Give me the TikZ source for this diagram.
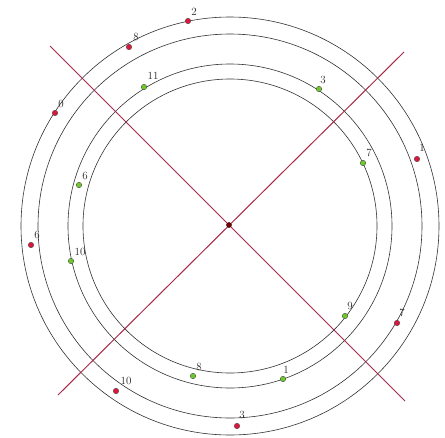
\documentclass[tikz,border=0pt]{standalone}
\definecolor{axiscol}{RGB}{168,42,72}
\definecolor{dotred}{RGB}{225,20,60}
\definecolor{dotgreen}{RGB}{110,200,40}
\begin{document}
\begin{tikzpicture}[x=1pt,y=-1pt,
  ring/.style={draw=black!80, line width=0.6pt},
  axisline/.style={draw=axiscol, line width=1pt},
  reddot/.style={circle, draw=black!70, fill=dotred, line width=0.4pt, inner sep=0pt, minimum size=5.5pt},
  greendot/.style={circle, draw=black!70, fill=dotgreen, line width=0.4pt, inner sep=0pt, minimum size=5.5pt},
  centerdot/.style={circle, draw=black, fill=red!50!black, inner sep=0pt, minimum size=5pt},
  lbl/.style={inner sep=0pt, font=\fontsize{11}{13}\selectfont, text=black!85}]
\useasboundingbox (0,0) rectangle (445,437);
\fill[white] (0,0) rectangle (445,437);
\coordinate (c) at (230,226);
% rings
\draw[ring] (c) circle[radius=209];
\draw[ring] (c) circle[radius=192];
\draw[ring] (c) circle[radius=162];
\draw[ring] (c) circle[radius=147];
% axes
\coordinate (a1) at (50,46);
\coordinate (a2) at (405,401);
\coordinate (b1) at (404,52);
\coordinate (b2) at (58,395);
\draw[axisline] (a1) -- (a2);
\draw[axisline] (b1) -- (b2);
\node[centerdot] (ctr) at (229,225) {};
% red dots
\node[reddot] (r2) at (188,21) {};   \node[lbl] (lr2) at (194,12) {2};
\node[reddot] (r8) at (129,47) {};   \node[lbl] (lr8) at (136,37) {8};
\node[reddot] (r0) at (55,113) {};   \node[lbl] (lr0) at (61,104) {0};
\node[reddot] (r1) at (417,159) {};  \node[lbl] (lr1) at (422,148) {1};
\node[reddot] (r7) at (397,323) {};  \node[lbl] (lr7) at (402,313) {7};
\node[reddot] (r3) at (237,426) {};  \node[lbl] (lr3) at (242,415) {3};
\node[reddot] (r10) at (116,391) {}; \node[lbl] (lr10) at (126,381) {10};
\node[reddot] (r6) at (31,245) {};   \node[lbl] (lr6) at (37,235) {6};
% green dots
\node[greendot] (g11) at (144,87) {};  \node[lbl] (lg11) at (153,76) {11};
\node[greendot] (g3) at (319,89) {};   \node[lbl] (lg3) at (323,80) {3};
\node[greendot] (g7) at (363,163) {};  \node[lbl] (lg7) at (369,153) {7};
\node[greendot] (g6) at (79,185) {};   \node[lbl] (lg6) at (85,176) {6};
\node[greendot] (g10) at (71,261) {};  \node[lbl] (lg10) at (80,252) {10};
\node[greendot] (g9) at (345,316) {};  \node[lbl] (lg9) at (350,306) {9};
\node[greendot] (g1) at (283,379) {};  \node[lbl] (lg1) at (286,370) {1};
\node[greendot] (g8) at (193,376) {};  \node[lbl] (lg8) at (199,367) {8};
\end{tikzpicture}
\end{document}
